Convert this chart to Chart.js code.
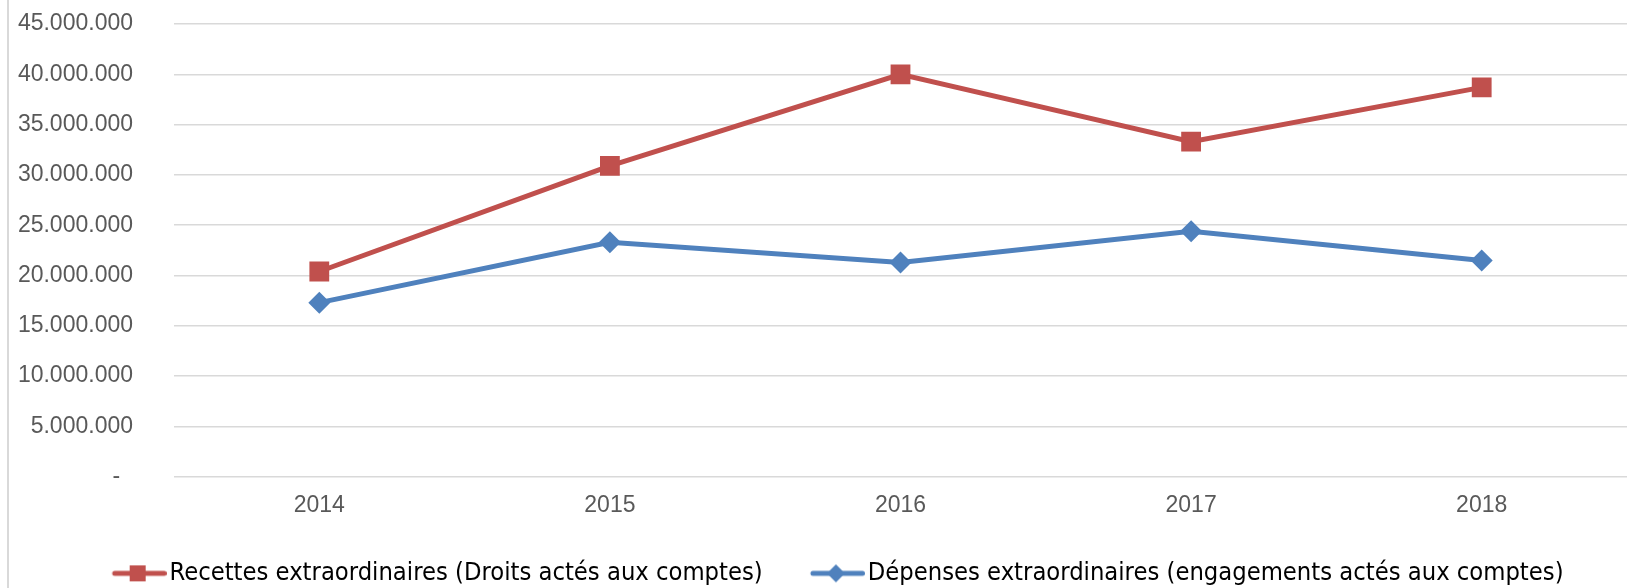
<!DOCTYPE html>
<html>
<head>
<meta charset="utf-8">
<script src="https://cdn.jsdelivr.net/npm/chart.js@4"></script>
<style>
  html, body { margin: 0; padding: 0; background: #fff; }
  #wrap { position: relative; width: 1635px; height: 588px; }
  #wrap:before { content: ""; position: absolute; left: 7px; top: 0; bottom: 0; border-left: 2px solid #d9d9d9; }
</style>
</head>
<body>
<div id="wrap"><canvas id="chart" width="1635" height="588"></canvas></div>
<script>
const years = ['2014', '2015', '2016', '2017', '2018'];
const recettes = [20400000, 30900000, 40000000, 33300000, 38700000];
const depenses = [17300000, 23300000, 21300000, 24400000, 21500000];
const seriesNames = [
    'Recettes extraordinaires (Droits actés aux comptes)',
    'Dépenses extraordinaires (engagements actés aux comptes)'
];
const yMax = 45000000;
const yStep = 5000000;

const redColor = '#C0504D';
const blueColor = '#4F81BD';
const axisText = '#595959';

// legend icon: short line with the marker on it, drawn into a small canvas
function legendIcon(color, shape) {
    const c = document.createElement('canvas');
    c.width = 71;
    c.height = 22;
    const ctx = c.getContext('2d');
    ctx.strokeStyle = color;
    ctx.fillStyle = color;
    ctx.lineWidth = 5;
    ctx.lineCap = 'round';
    ctx.beginPath();
    ctx.moveTo(19, 11);
    ctx.lineTo(68.5, 11);
    ctx.stroke();
    const cx = 42;
    if (shape === 'square') {
        ctx.fillRect(cx - 8, 3, 16, 16);
    } else {
        ctx.beginPath();
        ctx.moveTo(cx, 2);
        ctx.lineTo(cx + 9, 11);
        ctx.lineTo(cx, 20);
        ctx.lineTo(cx - 9, 11);
        ctx.closePath();
        ctx.fill();
    }
    return c;
}
const icons = [legendIcon(redColor, 'square'), legendIcon(blueColor, 'diamond')];

function formatNumber(value) {
    if (value === 0) return '-  ';
    return String(value).replace(/\B(?=(\d{3})+(?!\d))/g, '.');
}

// the legend in the original sits a bit right of the canvas centre
const legendShift = {
    id: 'legendShift',
    afterLayout(c) {
        c.legend.left += 36;
    }
};

const ctx = document.getElementById('chart');
const chart = new Chart(ctx, {
    type: 'line',
    data: {
        labels: years,
        datasets: [{
            label: seriesNames[0],
            data: recettes,
            borderColor: redColor,
            backgroundColor: redColor,
            borderWidth: 5,
            pointStyle: 'rect',
            pointRadius: 14,
            pointBorderWidth: 0,
            tension: 0
        }, {
            label: seriesNames[1],
            data: depenses,
            borderColor: blueColor,
            backgroundColor: blueColor,
            borderWidth: 5,
            pointStyle: 'rectRot',
            pointRadius: 11,
            pointBorderWidth: 0,
            tension: 0
        }]
    },
    options: {
        responsive: false,
        animation: false,
        layout: { autoPadding: false, padding: { left: 6, right: 8, top: 24, bottom: -8 } },
        plugins: {
            tooltip: { enabled: false },
            legend: {
                position: 'bottom',
                labels: {
                    usePointStyle: true,
                    pointStyleWidth: 51.35,
                    boxHeight: 22,
                    padding: 41,
                    color: '#000',
                    font: { family: 'Liberation Sans Narrow, DejaVu Sans Condensed', size: 25.3 },
                    generateLabels: (c) => c.data.datasets.map((ds, i) => ({
                        text: ds.label,
                        pointStyle: icons[i],
                        fillStyle: ds.borderColor,
                        strokeStyle: ds.borderColor,
                        lineWidth: 0,
                        hidden: false,
                        datasetIndex: i
                    }))
                }
            }
        },
        scales: {
            x: {
                offset: true,
                grid: { display: false, drawTicks: false },
                border: { display: false },
                ticks: {
                    color: axisText,
                    padding: 15,
                    font: { family: 'Liberation Sans', size: 23 }
                },
                afterFit: (axis) => { axis.height = 43; }
            },
            y: {
                min: 0,
                max: yMax,
                grid: { color: '#d9d9d9', lineWidth: 1.5, drawTicks: false },
                border: { display: false },
                ticks: {
                    stepSize: yStep,
                    color: axisText,
                    padding: 41,
                    font: { family: 'Liberation Sans', size: 23 },
                    callback: (v) => formatNumber(v)
                },
                afterFit: (axis) => {
                    axis.width = 168;
                    axis.paddingTop = 14;
                    axis.paddingBottom = 14;
                }
            }
        }
    },
    plugins: [legendShift]
});
</script>
</body>
</html>
